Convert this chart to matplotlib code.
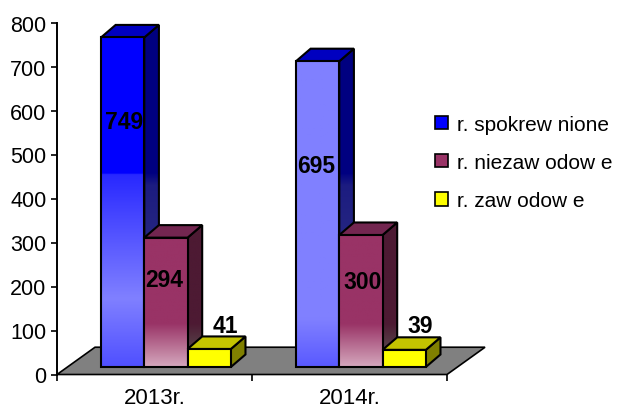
import numpy as np
import matplotlib
matplotlib.use('Agg')
import matplotlib.pyplot as plt
from matplotlib.colors import LinearSegmentedColormap
from matplotlib.patches import Patch, Polygon

plt.rcParams['font.family'] = ['Liberation Sans', 'DejaVu Sans']

years = ['2013r.', '2014r.']
series_names = ['r. spokrew nione', 'r. niezaw odow e', 'r. zaw odow e']
spokrewnione = [749, 695]
niezawodowe = [294, 300]
zawodowe = [41, 39]
y_ticks = [0, 100, 200, 300, 400, 500, 600, 700, 800]

# layout in axis units (1 unit on x is one category)
BASE = 17
BAR_W = 0.222
GROUP_START = 0.2256
DX = 0.075
DY = 28.5
# where the value labels sit, (x, y) per group
label_pos_1 = [(0.343, 576), (1.329, 476)]
label_pos_2 = [(0.549, 217), (1.565, 212)]
label_pos_3 = [(0.862, 112), (1.862, 112)]


def gradient(ax, poly, stops, y0, y1):
    ys = np.linspace(0, 1, 256)
    pos = [(s[0] - y0) / (y1 - y0) for s in stops]
    pos = [0.0] + [min(max(p, 0.0), 1.0) for p in pos] + [1.0]
    cols = [stops[0][1]] + [s[1] for s in stops] + [stops[-1][1]]
    cmap = LinearSegmentedColormap.from_list('g', list(zip(pos, cols)), N=512)
    x0 = min(p[0] for p in poly)
    x1 = max(p[0] for p in poly)
    im = ax.imshow(ys[:, None], origin='lower', extent=(x0, x1, y0, y1), aspect='auto',
                   cmap=cmap, vmin=0, vmax=1, zorder=3)
    patch = Polygon(poly, closed=True, transform=ax.transData)
    im.set_clip_path(patch)


def bar3d(ax, x, w, value, front, side, top):
    y0, y1 = BASE, BASE + value
    front_p = [(x, y0), (x + w, y0), (x + w, y1), (x, y1)]
    side_p = [(x + w, y0), (x + w + DX, y0 + DY), (x + w + DX, y1 + DY), (x + w, y1)]
    top_p = [(x, y1), (x + w, y1), (x + w + DX, y1 + DY), (x + DX, y1 + DY)]
    for poly, fill in ((side_p, side), (top_p, top), (front_p, front)):
        if isinstance(fill, str):
            ax.add_patch(Polygon(poly, closed=True, fc=fill, ec='none', zorder=3))
        else:
            gradient(ax, poly, fill, min(p[1] for p in poly), max(p[1] for p in poly))
        ax.add_patch(Polygon(poly, closed=True, fc='none', ec='black', lw=1.5, zorder=3,
                             joinstyle='miter'))


fig = plt.figure(figsize=(6.17, 4.10), dpi=100)
ax = fig.add_axes([57 / 617, (410 - 375.5) / 410, 390 / 617, 352 / 410])

# floor of the 3d box
floor = [(0, 0), (2, 0), (2 + 0.195, 62), (0.195, 62)]
ax.add_patch(Polygon(floor, closed=True, fc='#808080', ec='black', lw=1.2, zorder=2, clip_on=False))

front_blue = [
    [(19, '#5050ff'), (172, '#8080ff'), (455, '#2828ff'), (458, '#0000ff')],
    [(19, '#5a5aff'), (126, '#8080ff')],
]
side_blue = [(172, '#2f3080'), (430, '#1c1c80'), (458, '#000080')]
front_maroon = [(19, '#d4a6bc'), (115, '#993366')]
side_maroon = [(40, '#5a5050'), (115, '#4d1a33')]

for i in range(len(years)):
    x = i + GROUP_START
    bar3d(ax, x, BAR_W, spokrewnione[i], front_blue[i], side_blue, '#0000c0')
    bar3d(ax, x + BAR_W, BAR_W, niezawodowe[i], front_maroon, side_maroon, '#732650')
    bar3d(ax, x + 2 * BAR_W, BAR_W, zawodowe[i], '#ffff00', '#808000', '#c4c400')

    # value labels
    for vals, where in ((spokrewnione, label_pos_1), (niezawodowe, label_pos_2), (zawodowe, label_pos_3)):
        ax.text(where[i][0], where[i][1], str(vals[i]), ha='center', va='center',
                fontsize=16.5, fontweight='bold', zorder=5)

ax.set_xlim(0, 2)
ax.set_ylim(0, 800)
ax.set_xticks([0, 1, 2], labels=['', '', ''])
ax.set_xticks([0.5, 1.5], labels=years, minor=True)
ax.set_yticks(y_ticks)
ax.tick_params(axis='x', which='major', length=4.5, width=1.2, direction='out')
ax.tick_params(axis='x', which='minor', length=0, labelsize=16, pad=9)
ax.tick_params(axis='y', length=4.5, width=1.2, labelsize=15.5, pad=3)
for name in ('top', 'right', 'bottom'):
    ax.spines[name].set_visible(False)
ax.spines['left'].set_linewidth(1.4)
ax.patch.set_alpha(0)

handles = [Patch(fc='#0000ff', ec='black', lw=1.2),
           Patch(fc='#993366', ec='black', lw=1.2),
           Patch(fc='#ffff00', ec='black', lw=1.2)]
fig.legend(handles, series_names, loc='upper left', bbox_to_anchor=(435 / 617, 1 - 116 / 410), frameon=False,
           fontsize=15, handlelength=0.6, handleheight=0.6, handletextpad=0.45, labelspacing=0.92,
           borderpad=0.0, borderaxespad=0)

plt.savefig('out.png', dpi=100)
